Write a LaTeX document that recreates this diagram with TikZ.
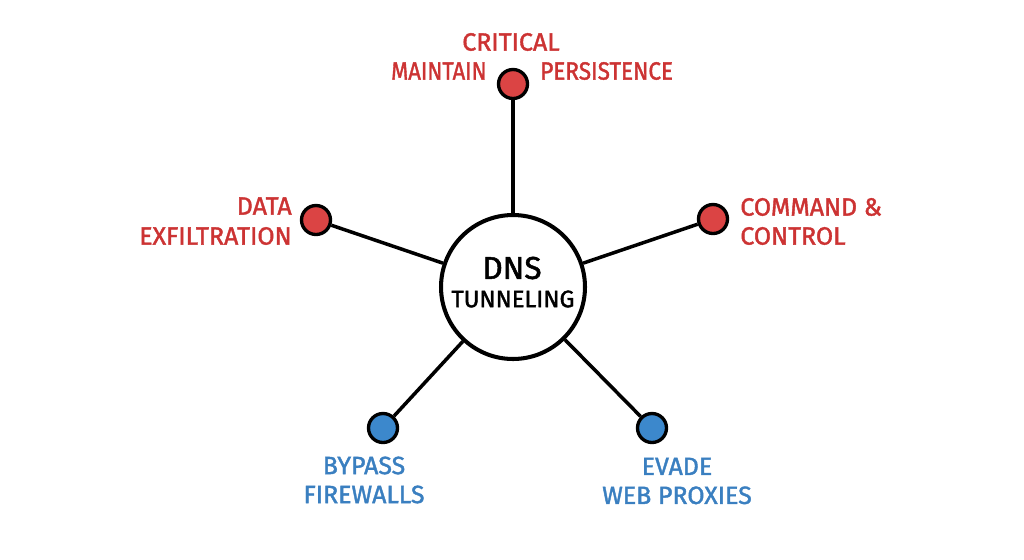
\documentclass[tikz,border=0pt]{standalone}
\usepackage{graphicx}
\usepackage{fontspec}
\setmainfont{Fira Sans}[FakeBold=1.6,BoldFont={Fira Sans}]
\definecolor{redc}{HTML}{CC3333}
\definecolor{redf}{HTML}{DB4444}
\definecolor{bluec}{HTML}{3A7FC0}
\definecolor{bluef}{HTML}{3C88CC}
\begin{document}
\begin{tikzpicture}[x=0.02cm,y=-0.02cm,
  hub/.style={circle,draw=black,line width=2.3pt,fill=white,minimum size=2.88cm,inner sep=0pt,align=center},
  reddot/.style={circle,draw=black,line width=1.9pt,fill=redf,minimum size=0.58cm,inner sep=0pt},
  bluedot/.style={circle,draw=black,line width=1.9pt,fill=bluef,minimum size=0.58cm,inner sep=0pt},
  spoke/.style={line width=2pt,black},
  redlbl/.style={text=redc,font=\bfseries\fontsize{14.2}{16.5}\selectfont,inner sep=0pt},
  bluelbl/.style={text=bluec,font=\bfseries\fontsize{14.2}{16.5}\selectfont,inner sep=0pt,align=center}]
\useasboundingbox (0,0) rectangle (1024,559);
\node[hub] (c) at (513,287) {};
\node (t1) at (512,268) {\bfseries\fontsize{18}{20}\selectfont DNS};
\node (t2) at (513,299) {\bfseries\fontsize{13.5}{16}\selectfont TUNNELING};
\node[reddot] (top) at (513,84) {};
\node[reddot] (left) at (316,220) {};
\node[reddot] (right) at (713,219) {};
\node[bluedot] (bl) at (383,428) {};
\node[bluedot] (br) at (652,428) {};
\draw[spoke] (c) -- (top);
\draw[spoke] (c) -- (left);
\draw[spoke] (c) -- (right);
\draw[spoke] (c) -- (bl);
\draw[spoke] (c) -- (br);
\node[redlbl] (crit) at (511,42) {CRITICAL};
\node[redlbl,anchor=east] (maint) at (487,71) {\scalebox{0.88}[1]{MAINTAIN}};
\node[redlbl,anchor=west] (pers) at (540,71) {\scalebox{0.9}[1]{PERSISTENCE}};
\node[redlbl,anchor=east] (data) at (292,206) {DATA};
\node[redlbl,anchor=east] (exf) at (292,236) {EXFILTRATION};
\node[redlbl,anchor=west] (cmd) at (740,207) {COMMAND \&};
\node[redlbl,anchor=west] (ctl) at (740,236) {CONTROL};
\node[bluelbl] (byp) at (364,480) {BYPASS\\FIREWALLS};
\node[bluelbl] (eva) at (677,481) {EVADE\\WEB PROXIES};
\end{tikzpicture}
\end{document}
